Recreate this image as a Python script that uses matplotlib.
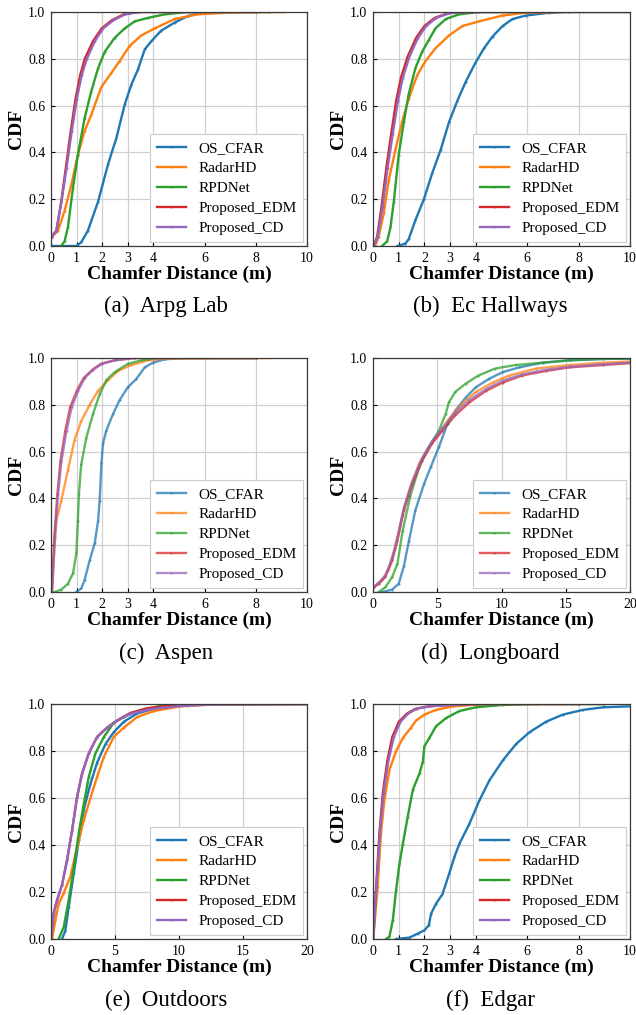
import matplotlib
matplotlib.use("Agg")
import matplotlib.pyplot as plt

plt.rcParams["font.family"] = ["Liberation Serif", "DejaVu Serif"]

SERIES = ["OS_CFAR", "RadarHD", "RPDNet", "Proposed_EDM", "Proposed_CD"]
COLORS = ["#1f77b4", "#ff7f0e", "#2ca02c", "#d62728", "#9467bd"]

# ---------------- (a) Arpg Lab ----------------
ARPG_OS_X = [0.0, 1.0, 1.18, 1.44, 1.84, 2.23, 2.55, 2.88, 3.14, 3.4, 3.66, 3.92, 4.3, 4.83, 5.35, 5.74, 6.5]
ARPG_OS_Y = [0.0, 0.0, 0.016, 0.065, 0.19, 0.35, 0.46, 0.605, 0.69, 0.755, 0.84, 0.875, 0.92, 0.955, 0.983, 0.995, 1.0]
ARPG_RHD_X = [0.04, 0.27, 0.53, 0.79, 1.05, 1.31, 1.57, 1.97, 2.36, 2.68, 3.07, 3.53, 4.05, 4.83, 5.74, 7.04, 9.06]
ARPG_RHD_Y = [0.04, 0.065, 0.15, 0.26, 0.39, 0.49, 0.56, 0.68, 0.74, 0.79, 0.855, 0.9, 0.93, 0.97, 0.99, 0.998, 1.0]
ARPG_RPD_X = [0.4, 0.53, 0.66, 0.86, 1.05, 1.31, 1.57, 1.84, 2.1, 2.49, 2.88, 3.27, 3.79, 4.44, 5.35, 8.5]
ARPG_RPD_Y = [0.0, 0.02, 0.08, 0.25, 0.39, 0.545, 0.66, 0.76, 0.83, 0.89, 0.93, 0.96, 0.975, 0.99, 1.0, 1.0]
ARPG_EDM_X = [0.02, 0.21, 0.4, 0.58, 0.77, 0.96, 1.14, 1.32, 1.64, 1.98, 2.38, 2.84, 3.4, 8.0]
ARPG_EDM_Y = [0.04, 0.065, 0.19, 0.335, 0.49, 0.63, 0.73, 0.8, 0.875, 0.93, 0.965, 0.99, 1.0, 1.0]
ARPG_CD_X = [0.02, 0.21, 0.41, 0.61, 0.81, 1.01, 1.2, 1.4, 1.71, 2.04, 2.44, 2.9, 3.45, 8.0]
ARPG_CD_Y = [0.04, 0.065, 0.19, 0.335, 0.49, 0.63, 0.73, 0.8, 0.875, 0.93, 0.965, 0.99, 1.0, 1.0]

# ---------------- (b) Ec Hallways ----------------
EC_OS_X = [0.95, 1.26, 1.39, 1.65, 1.98, 2.3, 2.63, 2.96, 3.28, 3.6, 3.97, 4.32, 4.65, 5.04, 5.43, 5.95, 6.86, 7.6, 10.0]
EC_OS_Y = [0.0, 0.01, 0.03, 0.11, 0.2, 0.31, 0.41, 0.53, 0.62, 0.7, 0.78, 0.845, 0.895, 0.94, 0.97, 0.985, 0.997, 1.0, 1.0]
EC_RHD_X = [0.09, 0.22, 0.42, 0.61, 0.87, 1.13, 1.39, 1.72, 2.04, 2.43, 2.96, 3.48, 4.13, 5.04, 5.95, 7.0, 10.0]
EC_RHD_Y = [0.0, 0.04, 0.14, 0.28, 0.41, 0.53, 0.63, 0.73, 0.79, 0.845, 0.9, 0.94, 0.96, 0.985, 0.997, 1.0, 1.0]
EC_RPD_X = [0.35, 0.55, 0.68, 0.81, 1.0, 1.2, 1.39, 1.65, 1.91, 2.17, 2.43, 2.83, 3.35, 4.13, 7.0]
EC_RPD_Y = [0.0, 0.02, 0.08, 0.19, 0.39, 0.53, 0.65, 0.76, 0.83, 0.88, 0.93, 0.97, 0.99, 1.0, 1.0]
EC_EDM_X = [0.03, 0.16, 0.33, 0.52, 0.71, 0.9, 1.09, 1.35, 1.68, 2.0, 2.4, 2.93, 3.48, 7.0]
EC_EDM_Y = [0.0, 0.04, 0.165, 0.335, 0.48, 0.62, 0.72, 0.81, 0.89, 0.94, 0.975, 0.995, 1.0, 1.0]
EC_CD_X = [0.03, 0.18, 0.37, 0.57, 0.77, 0.97, 1.16, 1.42, 1.75, 2.07, 2.46, 2.99, 3.55, 7.0]
EC_CD_Y = [0.0, 0.04, 0.165, 0.335, 0.48, 0.62, 0.72, 0.81, 0.89, 0.94, 0.975, 0.995, 1.0, 1.0]

# ---------------- (c) Aspen ----------------
ASP_OS_X = [0.99, 1.18, 1.31, 1.51, 1.71, 1.84, 1.9, 1.97, 2.03, 2.16, 2.42, 2.68, 3.0, 3.33, 3.66, 3.98, 4.44, 5.1, 8.0]
ASP_OS_Y = [0.0, 0.015, 0.05, 0.135, 0.21, 0.305, 0.39, 0.55, 0.635, 0.69, 0.76, 0.82, 0.875, 0.91, 0.96, 0.98, 0.994, 1.0, 1.0]
ASP_RHD_X = [0.04, 0.12, 0.21, 0.4, 0.66, 0.92, 1.18, 1.51, 1.84, 2.23, 2.62, 3.14, 3.79, 4.44, 8.5]
ASP_RHD_Y = [0.0, 0.165, 0.305, 0.39, 0.52, 0.65, 0.73, 0.8, 0.86, 0.905, 0.945, 0.97, 0.99, 0.997, 1.0]
ASP_RPD_X = [0.14, 0.4, 0.66, 0.86, 0.99, 1.05, 1.09, 1.18, 1.38, 1.64, 1.9, 2.16, 2.49, 3.0, 3.53, 4.18, 8.0]
ASP_RPD_Y = [0.0, 0.01, 0.035, 0.08, 0.165, 0.305, 0.42, 0.545, 0.66, 0.76, 0.845, 0.905, 0.94, 0.975, 0.99, 1.0, 1.0]
ASP_EDM_X = [0.03, 0.13, 0.25, 0.37, 0.56, 0.75, 1.01, 1.28, 1.62, 1.95, 2.47, 3.25, 8.0]
ASP_EDM_Y = [0.0, 0.235, 0.42, 0.56, 0.69, 0.79, 0.86, 0.915, 0.95, 0.975, 0.99, 1.0, 1.0]
ASP_CD_X = [0.04, 0.15, 0.28, 0.41, 0.61, 0.81, 1.06, 1.32, 1.65, 1.98, 2.5, 3.28, 8.0]
ASP_CD_Y = [0.0, 0.235, 0.42, 0.56, 0.69, 0.79, 0.86, 0.915, 0.95, 0.975, 0.99, 1.0, 1.0]

# ---------------- (d) Longboard ----------------
LB_OS_X = [0.7, 1.48, 2.0, 2.4, 2.8, 3.3, 3.96, 4.5, 5.13, 5.8, 6.4, 7.2, 8.0, 9.0, 10.1, 11.4, 13.2, 15.3, 17.9, 20.0]
LB_OS_Y = [0.0, 0.01, 0.035, 0.11, 0.22, 0.35, 0.46, 0.535, 0.62, 0.72, 0.775, 0.83, 0.875, 0.91, 0.94, 0.96, 0.98, 0.99, 0.996, 0.997]
LB_RHD_X = [0.05, 0.7, 1.2, 1.7, 2.3, 2.9, 3.6, 4.35, 5.1, 5.9, 6.95, 8.0, 9.3, 10.6, 12.7, 15.3, 17.9, 20.0]
LB_RHD_Y = [0.02, 0.05, 0.095, 0.19, 0.33, 0.45, 0.55, 0.62, 0.675, 0.74, 0.805, 0.855, 0.895, 0.925, 0.955, 0.97, 0.98, 0.985]
LB_RPD_X = [0.44, 0.96, 1.5, 1.9, 2.3, 2.9, 3.6, 4.35, 5.13, 5.65, 5.9, 6.4, 7.2, 8.2, 9.5, 11.1, 13.2, 15.3, 17.9, 20.0]
LB_RPD_Y = [0.0, 0.02, 0.065, 0.12, 0.26, 0.41, 0.535, 0.62, 0.69, 0.76, 0.81, 0.855, 0.89, 0.925, 0.955, 0.97, 0.98, 0.99, 0.996, 0.997]
LB_EDM_X = [0.05, 0.44, 0.96, 1.5, 1.9, 2.4, 3.05, 3.8, 4.6, 5.4, 6.4, 7.5, 8.8, 10.1, 11.6, 13.5, 15.3, 17.9, 20.0]
LB_EDM_Y = [0.02, 0.035, 0.065, 0.135, 0.22, 0.35, 0.46, 0.56, 0.635, 0.69, 0.755, 0.81, 0.86, 0.895, 0.925, 0.945, 0.96, 0.97, 0.978]
LB_CD_X = [0.05, 0.44, 0.96, 1.5, 1.9, 2.4, 3.05, 3.8, 4.6, 5.4, 6.4, 7.5, 8.8, 10.1, 11.6, 13.5, 15.3, 17.9, 20.0]
LB_CD_Y = [0.02, 0.04, 0.07, 0.145, 0.23, 0.36, 0.47, 0.57, 0.645, 0.7, 0.765, 0.82, 0.868, 0.903, 0.93, 0.95, 0.963, 0.973, 0.98]

# ---------------- (e) Outdoors ----------------
OUT_OS_X = [0.86, 1.12, 1.38, 1.78, 2.17, 2.56, 3.08, 3.6, 4.26, 4.9, 5.7, 6.74, 8.04, 10.1, 12.7, 20.0]
OUT_OS_Y = [0.0, 0.035, 0.135, 0.28, 0.42, 0.55, 0.66, 0.75, 0.83, 0.88, 0.925, 0.96, 0.98, 0.994, 1.0, 1.0]
OUT_RHD_X = [0.08, 0.34, 0.6, 0.99, 1.51, 2.04, 2.56, 3.08, 3.6, 4.13, 4.9, 5.7, 6.74, 8.04, 10.1, 12.7, 20.0]
OUT_RHD_Y = [0.0, 0.08, 0.15, 0.195, 0.265, 0.39, 0.505, 0.6, 0.69, 0.775, 0.86, 0.9, 0.945, 0.97, 0.99, 0.998, 1.0]
OUT_RPD_X = [0.6, 0.99, 1.38, 1.78, 2.17, 2.56, 2.95, 3.47, 4.13, 4.9, 5.7, 6.5, 7.5, 8.8, 10.1, 20.0]
OUT_RPD_Y = [0.0, 0.05, 0.165, 0.305, 0.45, 0.575, 0.69, 0.79, 0.86, 0.92, 0.945, 0.965, 0.98, 0.994, 1.0, 1.0]
OUT_EDM_X = [0.0, 0.21, 0.47, 0.86, 1.25, 1.64, 2.04, 2.43, 2.95, 3.6, 4.39, 5.17, 6.2, 7.5, 8.8, 10.6, 12.7, 20.0]
OUT_EDM_Y = [0.0, 0.11, 0.165, 0.23, 0.335, 0.46, 0.605, 0.705, 0.79, 0.86, 0.9, 0.93, 0.962, 0.982, 0.99, 0.996, 0.999, 1.0]
OUT_CD_X = [0.0, 0.21, 0.47, 0.86, 1.25, 1.64, 2.04, 2.43, 2.95, 3.6, 4.39, 5.17, 6.2, 7.5, 8.8, 10.6, 12.7, 20.0]
OUT_CD_Y = [0.0, 0.11, 0.165, 0.23, 0.335, 0.46, 0.605, 0.705, 0.79, 0.86, 0.9, 0.93, 0.958, 0.975, 0.985, 0.993, 0.998, 1.0]

# ---------------- (f) Edgar ----------------
EDG_OS_X = [0.9, 1.42, 1.74, 2.0, 2.17, 2.26, 2.45, 2.7, 2.97, 3.17, 3.36, 3.75, 4.14, 4.53, 5.05, 5.57, 6.09, 6.74, 7.39, 8.17, 8.95, 10.0]
EDG_OS_Y = [0.0, 0.006, 0.023, 0.037, 0.058, 0.108, 0.15, 0.19, 0.28, 0.35, 0.405, 0.49, 0.59, 0.675, 0.76, 0.83, 0.88, 0.925, 0.955, 0.975, 0.986, 0.99]
EDG_RHD_X = [0.01, 0.18, 0.31, 0.44, 0.64, 0.9, 1.16, 1.48, 1.68, 2.0, 2.45, 3.1, 4.0, 5.05, 9.0]
EDG_RHD_Y = [0.0, 0.22, 0.45, 0.59, 0.72, 0.8, 0.855, 0.9, 0.93, 0.955, 0.975, 0.99, 0.997, 1.0, 1.0]
EDG_RPD_X = [0.51, 0.64, 0.77, 0.9, 1.03, 1.16, 1.35, 1.55, 1.81, 1.94, 2.0, 2.19, 2.45, 2.84, 3.36, 4.0, 5.05, 6.35, 9.0]
EDG_RPD_Y = [0.0, 0.01, 0.08, 0.21, 0.32, 0.405, 0.52, 0.635, 0.705, 0.755, 0.82, 0.855, 0.905, 0.94, 0.97, 0.986, 0.996, 1.0, 1.0]
EDG_EDM_X = [0.01, 0.12, 0.25, 0.38, 0.56, 0.75, 1.01, 1.33, 1.66, 2.17, 3.08, 4.1, 8.0]
EDG_EDM_Y = [0.0, 0.22, 0.45, 0.62, 0.76, 0.86, 0.925, 0.96, 0.98, 0.99, 0.997, 1.0, 1.0]
EDG_CD_X = [0.01, 0.13, 0.27, 0.41, 0.6, 0.81, 1.07, 1.38, 1.7, 2.2, 3.1, 4.1, 8.0]
EDG_CD_Y = [0.0, 0.22, 0.45, 0.62, 0.76, 0.86, 0.925, 0.96, 0.98, 0.99, 0.997, 1.0, 1.0]

PANELS = [
    ("(a)  Arpg Lab", 10, [(ARPG_OS_X, ARPG_OS_Y), (ARPG_RHD_X, ARPG_RHD_Y), (ARPG_RPD_X, ARPG_RPD_Y),
                          (ARPG_EDM_X, ARPG_EDM_Y), (ARPG_CD_X, ARPG_CD_Y)], 1.0),
    ("(b)  Ec Hallways", 10, [(EC_OS_X, EC_OS_Y), (EC_RHD_X, EC_RHD_Y), (EC_RPD_X, EC_RPD_Y),
                             (EC_EDM_X, EC_EDM_Y), (EC_CD_X, EC_CD_Y)], 1.0),
    ("(c)  Aspen", 10, [(ASP_OS_X, ASP_OS_Y), (ASP_RHD_X, ASP_RHD_Y), (ASP_RPD_X, ASP_RPD_Y),
                       (ASP_EDM_X, ASP_EDM_Y), (ASP_CD_X, ASP_CD_Y)], 0.75),
    ("(d)  Longboard", 20, [(LB_OS_X, LB_OS_Y), (LB_RHD_X, LB_RHD_Y), (LB_RPD_X, LB_RPD_Y),
                           (LB_EDM_X, LB_EDM_Y), (LB_CD_X, LB_CD_Y)], 0.75),
    ("(e)  Outdoors", 20, [(OUT_OS_X, OUT_OS_Y), (OUT_RHD_X, OUT_RHD_Y), (OUT_RPD_X, OUT_RPD_Y),
                          (OUT_EDM_X, OUT_EDM_Y), (OUT_CD_X, OUT_CD_Y)], 1.0),
    ("(f)  Edgar", 10, [(EDG_OS_X, EDG_OS_Y), (EDG_RHD_X, EDG_RHD_Y), (EDG_RPD_X, EDG_RPD_Y),
                       (EDG_EDM_X, EDG_EDM_Y), (EDG_CD_X, EDG_CD_Y)], 1.0),
]

XTICKS_10 = [0, 1, 2, 3, 4, 6, 8, 10]
XTICKS_20 = [0, 5, 10, 15, 20]
YTICKS = [0.0, 0.2, 0.4, 0.6, 0.8, 1.0]

W, H = 636, 1015
fig = plt.figure(figsize=(W / 100, H / 100), dpi=100)

# axes boxes in pixels: left, right, top, bottom
col_x = [(51, 307), (373, 630)]
row_y = [(12, 246), (358, 592), (704, 939)]
caption_x = [166, 490]
caption_y = [306, 653, 1000]

for i, (caption, xmax, curves, alpha) in enumerate(PANELS):
    r, c = divmod(i, 2)
    x0, x1 = col_x[c]
    y0, y1 = row_y[r]
    ax = fig.add_axes([x0 / W, 1 - y1 / H, (x1 - x0) / W, (y1 - y0) / H])
    for name, color, (xs, ys) in zip(SERIES, COLORS, curves):
        ax.plot(xs, ys, color=color, lw=1.7, marker=".", markersize=1.0,
                alpha=alpha, label=name)
    ax.set_xlim(0, xmax)
    ax.set_ylim(0, 1.0)
    ax.set_xticks(XTICKS_10 if xmax == 10 else XTICKS_20)
    ax.set_yticks(YTICKS)
    ax.set_yticklabels([f"{v:.1f}" for v in YTICKS])
    ax.grid(True, color="#d0d0d0", lw=0.9)
    ax.set_axisbelow(True)
    ax.tick_params(direction="in", labelsize=10, length=3, pad=4)
    for sp in ax.spines.values():
        sp.set_color("#3a3a3a")
        sp.set_linewidth(0.9)
    ax.set_xlabel("Chamfer Distance (m)", fontsize=14, fontweight="bold", labelpad=1)
    ax.set_ylabel("CDF", fontsize=14, fontweight="bold", labelpad=2)
    leg = ax.legend(loc="lower right", fontsize=11, handlelength=1.9,
                    borderaxespad=0.25, framealpha=1.0, fancybox=False,
                    labelspacing=0.42, borderpad=0.45)
    leg.get_frame().set_edgecolor("#cccccc")
    leg.get_frame().set_linewidth(0.8)
    fig.text(caption_x[c] / W, 1 - caption_y[r] / H, caption, fontsize=16.5,
             ha="center", va="center")

fig.savefig("out.png", dpi=100)
